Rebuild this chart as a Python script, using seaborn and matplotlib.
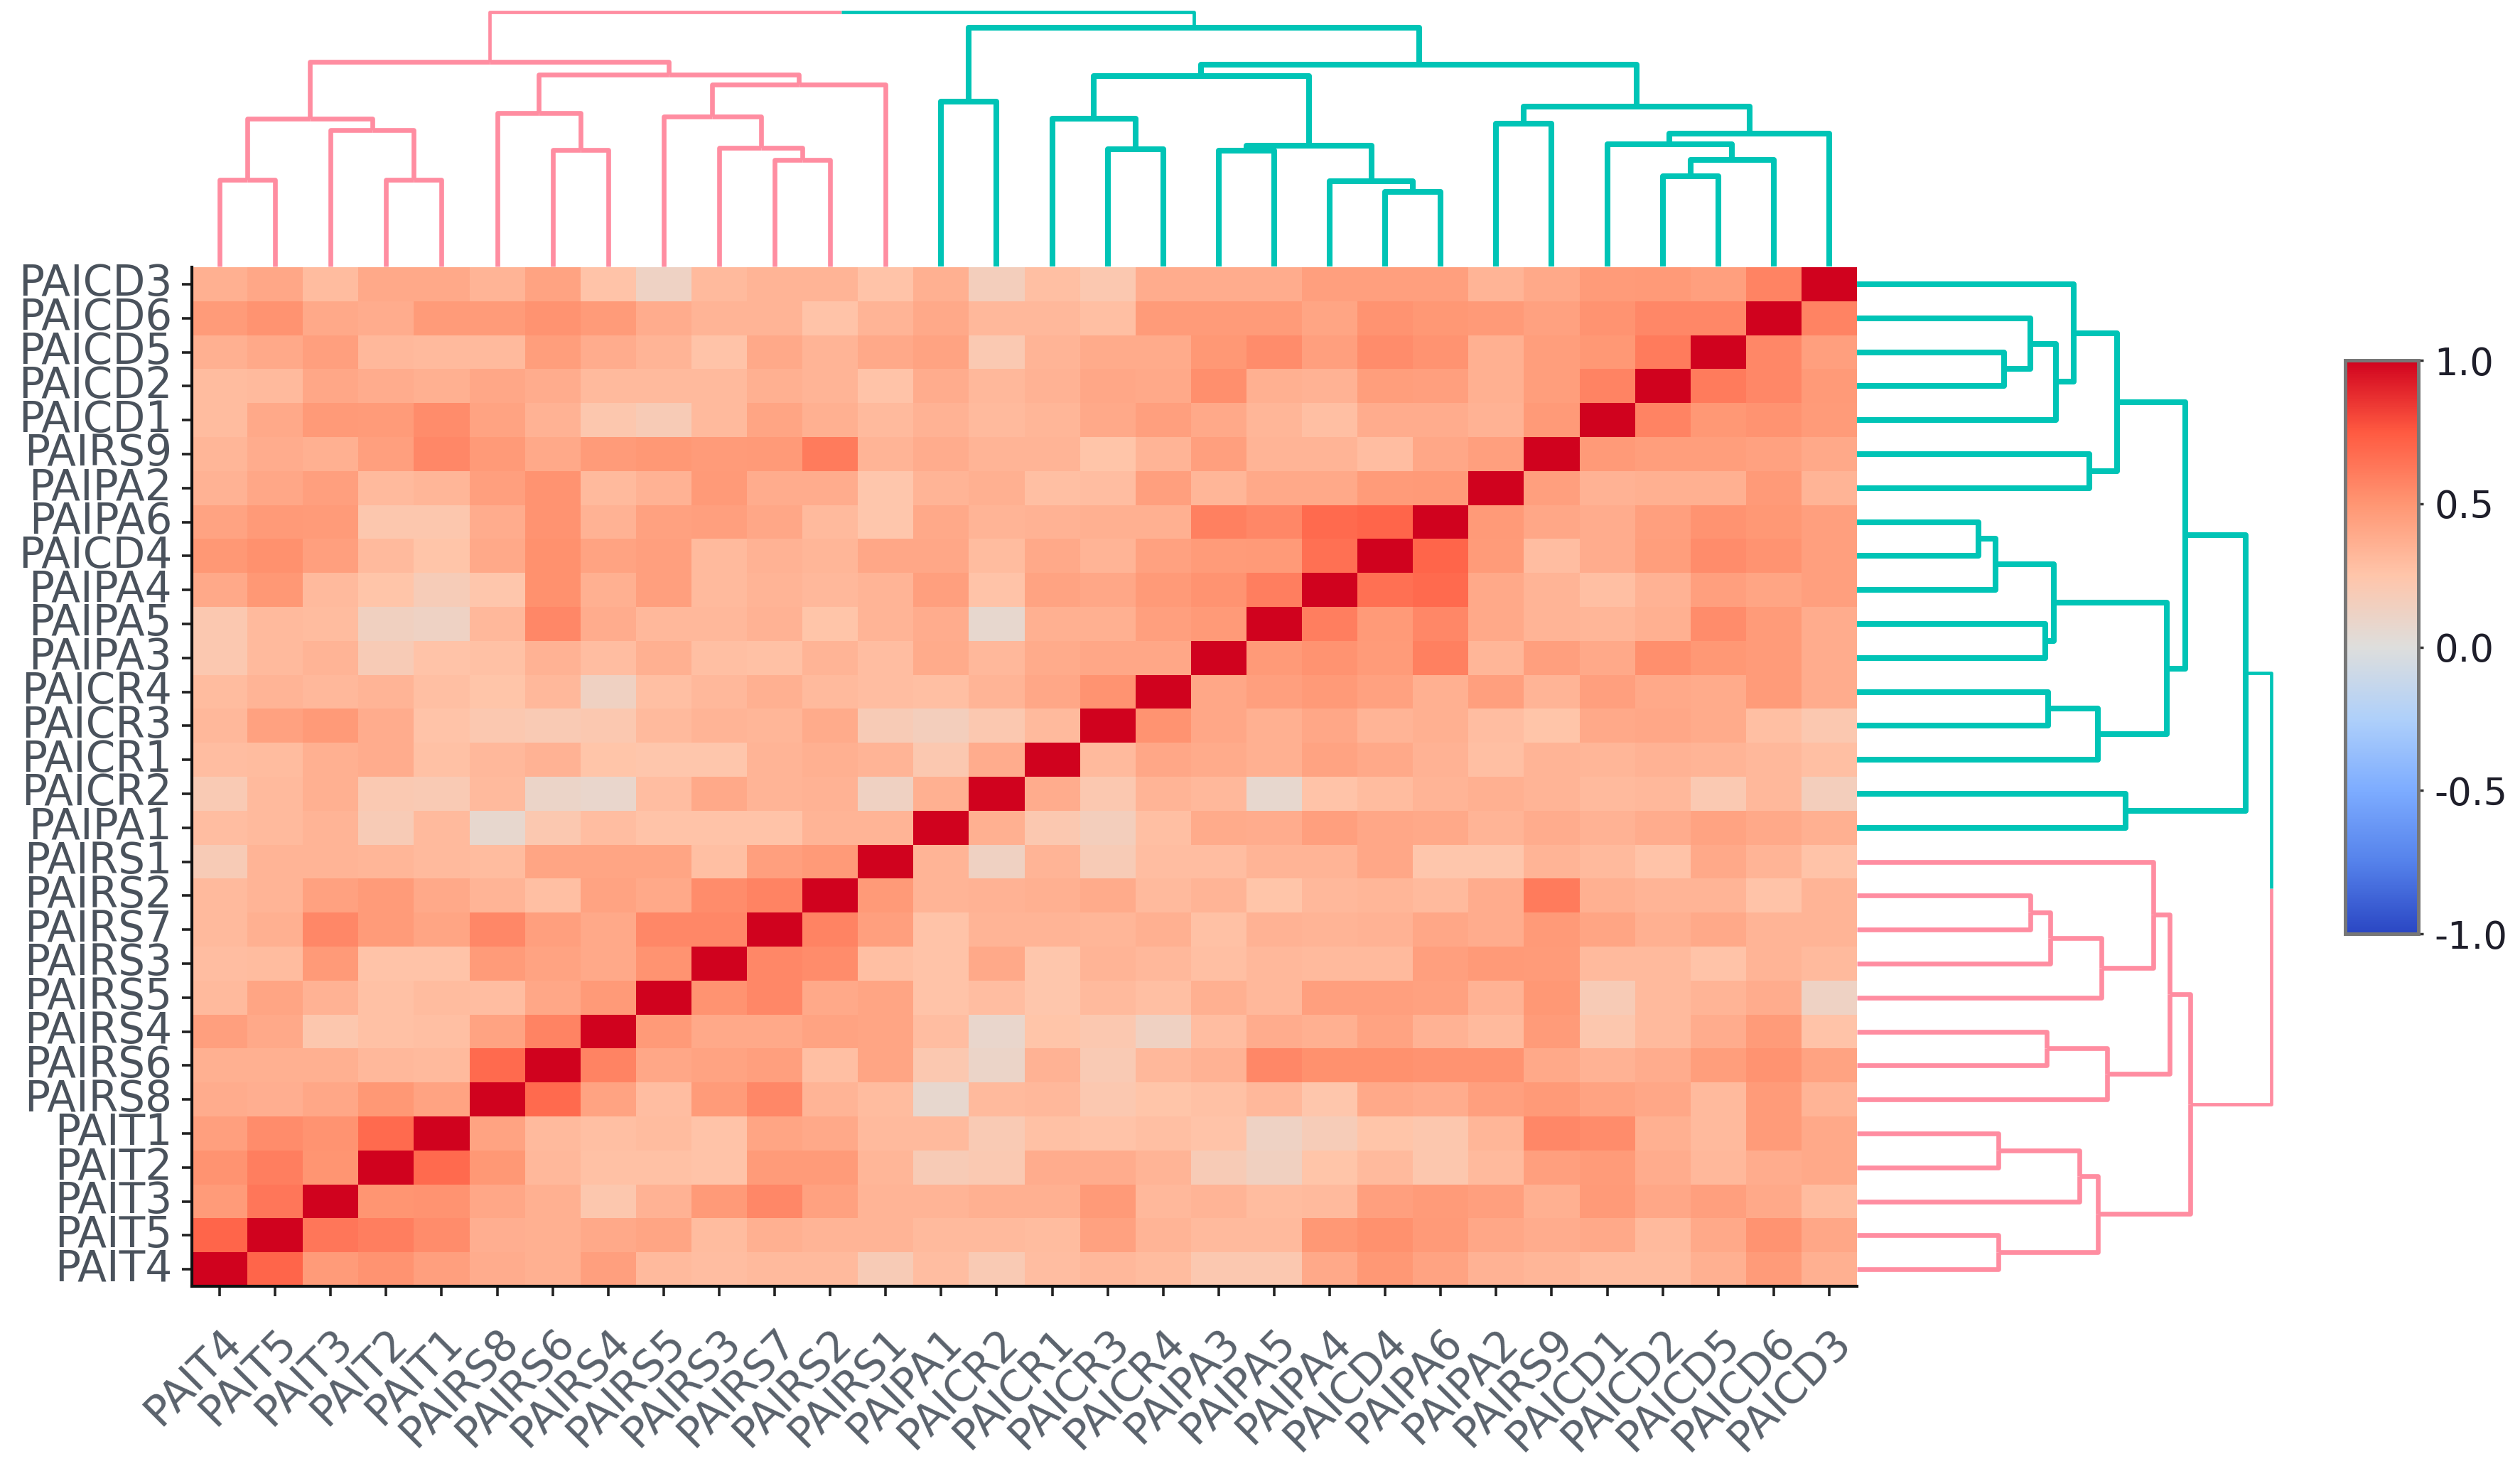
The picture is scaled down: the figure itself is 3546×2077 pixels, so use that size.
import numpy as np
import pandas as pd
import seaborn as sns
import matplotlib.pyplot as plt
from matplotlib.colors import LinearSegmentedColormap

W, H = 3546, 2077

labels = ["PAIT4", "PAIT5", "PAIT3", "PAIT2", "PAIT1", "PAIRS8", "PAIRS6", "PAIRS4", "PAIRS5", "PAIRS3",
          "PAIRS7", "PAIRS2", "PAIRS1", "PAIPA1", "PAICR2", "PAICR1", "PAICR3", "PAICR4", "PAIPA3", "PAIPA5",
          "PAIPA4", "PAICD4", "PAIPA6", "PAIPA2", "PAIRS9", "PAICD1", "PAICD2", "PAICD5", "PAICD6", "PAICD3"]

# lower triangle, each row read against the columns left of the diagonal
PAIT4 = []
PAIT5 = [.70]
PAIT3 = [.47, .63]
PAIT2 = [.51, .60, .50]
PAIT1 = [.45, .54, .51, .68]
PAIRS8 = [.38, .37, .41, .49, .43]
PAIRS6 = [.36, .36, .36, .32, .31, .68]
PAIRS4 = [.45, .40, .23, .27, .28, .43, .58]
PAIRS5 = [.31, .42, .35, .27, .30, .29, .41, .48]
PAIRS3 = [.29, .30, .48, .26, .26, .47, .43, .40, .51]
PAIRS7 = [.31, .36, .56, .47, .42, .56, .45, .40, .56, .56]
PAIRS2 = [.31, .34, .44, .47, .40, .34, .28, .43, .40, .54, .58]
PAIRS1 = [.19, .34, .34, .33, .31, .30, .42, .42, .42, .28, .45, .48]
PAIPA1 = [.29, .31, .34, .19, .31, .07, .22, .29, .26, .26, .26, .34, .34]
PAICR2 = [.20, .31, .36, .21, .20, .31, .10, .08, .29, .40, .34, .35, .13, .36]
PAICR1 = [.29, .30, .36, .38, .27, .32, .35, .25, .24, .24, .34, .36, .34, .22, .38]
PAICR3 = [.32, .44, .48, .38, .26, .22, .20, .22, .31, .34, .33, .39, .19, .16, .22, .31]
PAICR4 = [.30, .34, .32, .34, .28, .25, .32, .13, .28, .32, .36, .31, .29, .28, .34, .41, .51]
PAIPA3 = [.22, .31, .34, .19, .26, .27, .35, .29, .36, .28, .27, .34, .29, .39, .32, .39, .41, .41]
PAIPA5 = [.22, .31, .30, .14, .12, .32, .56, .38, .32, .32, .35, .25, .34, .38, .07, .36, .36, .45, .48]
PAIPA4 = [.40, .49, .31, .25, .18, .24, .52, .36, .45, .31, .34, .32, .34, .45, .26, .43, .41, .48, .51, .60]
PAICD4 = [.49, .52, .45, .31, .25, .40, .52, .43, .45, .31, .35, .33, .41, .41, .30, .40, .34, .44, .47, .48, .66]
PAIPA6 = [.43, .48, .47, .23, .23, .38, .51, .35, .44, .45, .41, .31, .24, .40, .34, .35, .36, .36, .59, .56, .68, .70]
PAIPA2 = [.35, .41, .45, .31, .33, .45, .51, .31, .35, .48, .38, .38, .24, .34, .36, .28, .29, .45, .33, .40, .40, .47, .48]
PAIRS9 = [.33, .38, .36, .45, .56, .48, .40, .47, .49, .47, .48, .61, .34, .38, .34, .34, .25, .34, .45, .34, .34, .29, .41, .45]
PAICD1 = [.30, .40, .48, .47, .54, .43, .35, .23, .19, .31, .42, .36, .31, .35, .31, .33, .40, .45, .40, .33, .28, .38, .38, .35, .48]
PAICD2 = [.30, .31, .41, .38, .36, .41, .38, .31, .31, .31, .36, .34, .26, .38, .32, .35, .41, .40, .53, .36, .35, .46, .45, .36, .46, .58]
PAICD5 = [.36, .40, .45, .32, .31, .31, .46, .38, .34, .26, .40, .34, .40, .43, .21, .34, .39, .39, .49, .54, .45, .54, .51, .36, .46, .49, .61]
PAICD6 = [.47, .51, .40, .38, .47, .47, .51, .47, .38, .34, .34, .26, .34, .40, .32, .32, .28, .47, .47, .47, .42, .51, .49, .48, .44, .51, .56, .56]
PAICD3 = [.36, .41, .30, .40, .40, .34, .43, .26, .12, .31, .34, .34, .26, .36, .16, .28, .22, .38, .38, .38, .45, .45, .45, .34, .40, .47, .48, .45, .58]

rows = [PAIT4, PAIT5, PAIT3, PAIT2, PAIT1, PAIRS8, PAIRS6, PAIRS4, PAIRS5, PAIRS3, PAIRS7, PAIRS2, PAIRS1, PAIPA1, PAICR2,
        PAICR1, PAICR3, PAICR4, PAIPA3, PAIPA5, PAIPA4, PAICD4, PAIPA6, PAIPA2, PAIRS9, PAICD1, PAICD2, PAICD5, PAICD6, PAICD3]

# linkage: leaves are 0..29, each merge gets the next id from 30 on
merge_left = [0, 3, 2, 30, 6, 5, 10, 9, 8, 38, 35, 33,
              13, 16, 15, 18, 21, 20, 45, 44, 23, 26, 51, 25, 53, 50, 49, 42, 41]
merge_right = [1, 4, 31, 32, 7, 34, 11, 36, 37, 12, 39, 40,
               14, 17, 43, 19, 22, 46, 47, 48, 24, 27, 28, 52, 29, 54, 55, 56, 57]
merge_height = [122, 122, 192, 208, 164, 216, 150, 167, 211, 256, 270, 288,
                232, 165, 208, 163, 105, 120, 170, 268, 201, 127, 150, 172, 187, 225, 284, 336, 358]
n_pink = 12

pink = "#FF8DA1"
teal = "#00C4B6"

cbar_values = [-1, -.75, -.5, -.25, 0, .25, .5, .75, 1]
cbar_colors = ["#2A46C3", "#5582EB", "#7DACFF", "#AFD0FA", "#DEDEDC", "#FFC5AA", "#FF9673", "#FF5A41", "#D0021E"]
cbar_ticks = [-1, -.5, 0, .5, 1]

sns.set_theme(style="white")
plt.rcParams["font.family"] = ["DejaVu Sans"]

corr = np.eye(len(labels))
for i, row in enumerate(rows):
    corr[i, :i] = row
    corr[:i, i] = row
df = pd.DataFrame(corr[::-1], index=labels[::-1], columns=labels)

cmap = LinearSegmentedColormap.from_list(
    "corr", [((v + 1) / 2, c) for v, c in zip(cbar_values, cbar_colors)], N=512)


def box(x0, y0, x1, y1):
    return [x0 / W, 1 - y1 / H, (x1 - x0) / W, (y1 - y0) / H]


fig = plt.figure(figsize=(W / 100, H / 100), dpi=100, facecolor="white")
ax = fig.add_axes(box(270, 376, 2613, 1810))
ax_top = fig.add_axes(box(270, 17, 2613, 375))
ax_right = fig.add_axes(box(2613, 376, 3196, 1810))
ax_cbar = fig.add_axes(box(3300, 507, 3403, 1314))

sns.heatmap(df, ax=ax, cmap=cmap, vmin=-1, vmax=1, cbar_ax=ax_cbar, xticklabels=True, yticklabels=True)

for side in ["left", "bottom"]:
    ax.spines[side].set_visible(True)
    ax.spines[side].set_color("#111111")
    ax.spines[side].set_linewidth(3)
ax.set_xlabel("")
ax.set_ylabel("")
ax.tick_params(axis="both", left=True, bottom=True, length=10, width=2.6, color="#222222")
ax.tick_params(axis="y", labelsize=43, labelcolor="#4A525C", pad=10, rotation=0)
ax.tick_params(axis="x", labelsize=43, labelcolor="#5A626C", pad=25)
for t in ax.get_xticklabels():
    t.set_rotation(45)
    t.set_ha("right")
    t.set_rotation_mode("anchor")


def draw_tree(axis, vertical):
    pos = {i: i + .5 for i in range(len(labels))}
    hgt = {i: 0 for i in range(len(labels))}
    for k, (a, b, h) in enumerate(zip(merge_left, merge_right, merge_height)):
        node = len(labels) + k
        pos[node] = (pos[a] + pos[b]) / 2
        hgt[node] = h
        root = k == len(merge_height) - 1
        c = pink if k < n_pink else teal
        lw = 3.4 if root else (4.8 if c == pink else 5.8)
        segs = [([pos[a], pos[a], pos[node]], [hgt[a], h, h], pink if root else c),
                ([pos[node], pos[b], pos[b]], [h, h, hgt[b]], c)]
        for p, v, col in segs:
            xs, ys = (p, v) if vertical else (v, p)
            axis.plot(xs, ys, color=col, lw=lw, solid_joinstyle="round", solid_capstyle="butt", clip_on=False)
    axis.axis("off")


draw_tree(ax_top, True)
ax_top.set_xlim(0, len(labels))
ax_top.set_ylim(0, max(merge_height))
draw_tree(ax_right, False)
ax_right.set_xlim(0, max(merge_height))
ax_right.set_ylim(0, len(labels))

ax_cbar.set_yticks(cbar_ticks)
ax_cbar.set_yticklabels(["%.1f" % v for v in cbar_ticks])
ax_cbar.tick_params(axis="y", right=True, left=False, length=5, width=2.5, color="#333333",
                    labelsize=38, labelcolor="#1E1E2A", pad=11)
for s in ax_cbar.spines.values():
    s.set_visible(True)
    s.set_color("#777777")
    s.set_linewidth(3.5)

fig.savefig("out.png", dpi=100, facecolor="white")
